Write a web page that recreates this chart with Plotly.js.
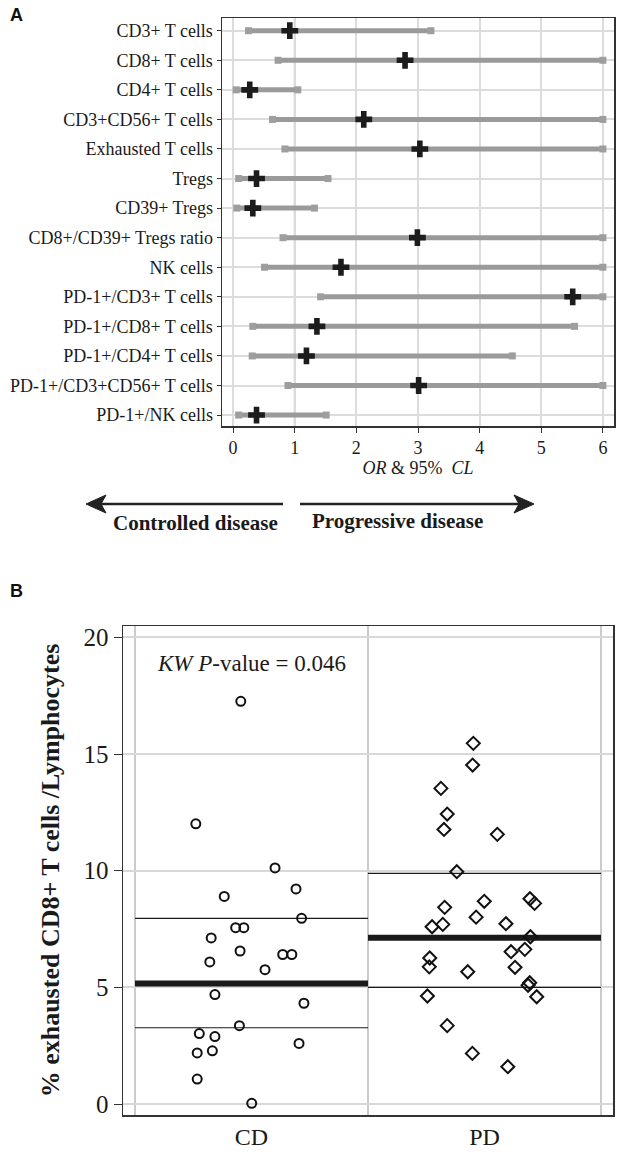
<!DOCTYPE html>
<html><head><meta charset="utf-8">
<script src="https://cdn.plot.ly/plotly-3.0.1.min.js"></script>
<style>body{margin:0;background:#fff}#chart{width:630px;height:1155px}</style>
</head><body><div id="chart"></div>
<script>
// ---------- Panel A data ----------
const categories = ["CD3+ T cells","CD8+ T cells","CD4+ T cells","CD3+CD56+ T cells","Exhausted T cells","Tregs","CD39+ Tregs","CD8+/CD39+ Tregs ratio","NK cells","PD-1+/CD3+ T cells","PD-1+/CD8+ T cells","PD-1+/CD4+ T cells","PD-1+/CD3+CD56+ T cells","PD-1+/NK cells"];
const orValues = [0.92,2.79,0.27,2.12,3.03,0.38,0.32,2.99,1.75,5.51,1.36,1.19,3.01,0.38];
const clLower  = [0.25,0.73,0.05,0.64,0.84,0.09,0.06,0.81,0.51,1.42,0.32,0.31,0.89,0.09];
const clUpper  = [3.21,6.00,1.05,6.00,6.00,1.54,1.32,6.00,6.00,6.00,5.54,4.53,6.00,1.51];
const orTicks  = [0,1,2,3,4,5,6];

// ---------- Panel B data ----------
const groups = ["CD","PD"];
const cdValues = [17.26,12.01,10.12,9.22,8.90,7.96,7.56,7.56,7.12,6.56,6.41,6.41,6.09,5.76,4.69,4.32,3.36,3.02,2.89,2.60,2.28,2.19,1.07,0.03];
const cdX      = [0.454,0.261,0.601,0.691,0.383,0.715,0.432,0.467,0.327,0.451,0.634,0.673,0.321,0.558,0.343,0.725,0.448,0.276,0.343,0.704,0.332,0.267,0.267,0.501];
const pdValues = [15.46,14.53,13.53,12.43,11.77,11.56,9.96,8.80,8.60,8.69,8.43,8.01,7.60,7.70,7.73,7.17,6.53,6.63,6.26,5.88,5.67,5.86,5.20,5.09,4.60,4.63,3.36,2.17,1.60];
const pdX      = [1.452,1.449,1.313,1.340,1.326,1.555,1.381,1.695,1.715,1.499,1.329,1.464,1.275,1.321,1.592,1.697,1.614,1.673,1.265,1.263,1.428,1.631,1.694,1.687,1.724,1.255,1.340,1.448,1.600];
const medians  = [5.17,7.13];
const lowerQ   = [3.27,5.00];
const upperQ   = [7.96,9.89];
const bTicks   = [0,5,10,15,20];

// pixel -> paper helpers (figure is 630 x 1155, zero margins)
const W = 630, H = 1155;
const px = x => x / W;
const py = y => 1 - y / H;

const SERIF = "Liberation Serif, Times New Roman, serif";
const INK = "#1a1a1a";

// CI bars
const ciX = [], ciY = [];
categories.forEach((c, i) => { ciX.push(clLower[i], clUpper[i], null); ciY.push(c, c, null); });

// median / quartile lines
function hLines(vals) {
  const x = [], y = [];
  vals.forEach((v, i) => { x.push(i, i + 1, null); y.push(v, v, null); });
  return {x, y};
}
const medL = hLines(medians), loL = hLines(lowerQ), upL = hLines(upperQ);

const traces = [
  {type:"scatter", mode:"lines+markers", x:ciX, y:ciY, xaxis:"x", yaxis:"y",
   line:{color:"#9a9a9a", width:5}, marker:{symbol:"square", size:7, color:"#9e9e9e"},
   connectgaps:false, hoverinfo:"skip", showlegend:false},
  {type:"scatter", mode:"markers", x:orValues, y:categories, xaxis:"x", yaxis:"y",
   marker:{symbol:"cross", size:14, color:"#1c1c1c", line:{width:0}}, showlegend:false},

  {type:"scatter", mode:"lines", x:loL.x, y:loL.y, xaxis:"x2", yaxis:"y2",
   line:{color:INK, width:1.2}, showlegend:false, hoverinfo:"skip"},
  {type:"scatter", mode:"lines", x:upL.x, y:upL.y, xaxis:"x2", yaxis:"y2",
   line:{color:INK, width:1.2}, showlegend:false, hoverinfo:"skip"},
  {type:"scatter", mode:"lines", x:medL.x, y:medL.y, xaxis:"x2", yaxis:"y2",
   line:{color:"#1a1a1a", width:6}, showlegend:false, hoverinfo:"skip"},
  {type:"scatter", mode:"markers", x:cdX, y:cdValues, xaxis:"x2", yaxis:"y2", name:groups[0],
   marker:{symbol:"circle-open", size:9, color:"#111", line:{width:2, color:"#111"}}, showlegend:false},
  {type:"scatter", mode:"markers", x:pdX, y:pdValues, xaxis:"x2", yaxis:"y2", name:groups[1],
   marker:{symbol:"diamond-open", size:10, color:"#111", line:{width:2, color:"#111"}}, showlegend:false}
];

const layout = {
  width:W, height:H, margin:{l:0, r:0, t:0, b:0},
  paper_bgcolor:"#fff", plot_bgcolor:"#fff",
  font:{family:SERIF, color:INK},
  xaxis:{domain:[px(222), px(614)], range:[-0.18, 6.18], tickvals:orTicks,
         ticks:"outside", ticklen:5, tickcolor:"#333", tickwidth:1,
         showline:true, mirror:true, linecolor:"#333", linewidth:1.5,
         showgrid:true, gridcolor:"#dcdcdc", gridwidth:2, zeroline:false,
         tickfont:{family:SERIF, size:18, color:INK},
         title:{text:"<i>OR</i> & 95%  <i>CL</i>", standoff:2, font:{family:SERIF, size:18, color:INK}}},
  yaxis:{domain:[py(426), py(18)], type:"category", range:[13.37, -0.43],
         ticks:"outside", ticklen:4, tickcolor:"#333",
         showline:true, mirror:true, linecolor:"#333", linewidth:1.5,
         showgrid:true, gridcolor:"#dcdcdc", gridwidth:2,
         tickfont:{family:SERIF, size:18, color:INK}},
  xaxis2:{domain:[px(123), px(613)], range:[-0.0515, 2.0515], tickvals:[0.5,1.5], ticktext:groups,
          ticks:"", showgrid:false, zeroline:false, anchor:"y2",
          showline:true, mirror:true, linecolor:"#333", linewidth:1.5,
          tickfont:{family:SERIF, size:24, color:INK}},
  yaxis2:{domain:[py(1115), py(626)], range:[-0.47, 20.49], tickvals:bTicks, anchor:"x2",
          ticks:"outside", ticklen:8, tickcolor:"#333",
          showline:true, mirror:true, linecolor:"#333", linewidth:1.5,
          showgrid:true, gridcolor:"#d8d8d8", gridwidth:2, zeroline:false,
          tickfont:{family:SERIF, size:25, color:INK},
          title:{text:"<b>% exhausted CD8+ T cells /Lymphocytes</b>", standoff:16,
                 font:{family:SERIF, size:26, color:INK}}},
  shapes:[
    {type:"line", xref:"x", yref:"y domain", x0:1, x1:1, y0:0, y1:1, line:{color:"#222", width:1.6}, layer:"below"},
    {type:"line", xref:"x2", yref:"y2 domain", x0:0, x1:0, y0:0, y1:1, line:{color:"#a8a8a8", width:1.2}, layer:"below"},
    {type:"line", xref:"x2", yref:"y2 domain", x0:1, x1:1, y0:0, y1:1, line:{color:"#a8a8a8", width:1.2}, layer:"below"},
    {type:"line", xref:"x2", yref:"y2 domain", x0:2, x1:2, y0:0, y1:1, line:{color:"#a8a8a8", width:1.2}, layer:"below"},
    // direction arrows
    {type:"line", xref:"paper", yref:"paper", x0:px(283), x1:px(100), y0:py(504), y1:py(504), line:{color:"#222", width:2.5}},
    {type:"path", xref:"paper", yref:"paper", fillcolor:"#222", line:{color:"#222", width:1},
     path:`M ${px(86)} ${py(504)} L ${px(106)} ${py(495)} L ${px(101)} ${py(504)} L ${px(106)} ${py(513)} Z`},
    {type:"line", xref:"paper", yref:"paper", x0:px(300), x1:px(520), y0:py(504), y1:py(504), line:{color:"#222", width:2.5}},
    {type:"path", xref:"paper", yref:"paper", fillcolor:"#222", line:{color:"#222", width:1},
     path:`M ${px(534)} ${py(504)} L ${px(514)} ${py(495)} L ${px(519)} ${py(504)} L ${px(514)} ${py(513)} Z`}
  ],
  annotations:[
    {xref:"paper", yref:"paper", x:px(16), y:py(15), xanchor:"center", yanchor:"middle", text:"<b>A</b>", showarrow:false,
     font:{family:"Liberation Sans, Arial, sans-serif", size:18, color:"#111"}},
    {xref:"paper", yref:"paper", x:px(16), y:py(591), xanchor:"center", yanchor:"middle", text:"<b>B</b>", showarrow:false,
     font:{family:"Liberation Sans, Arial, sans-serif", size:18, color:"#111"}},
    {xref:"paper", yref:"paper", x:px(195), y:py(523), xanchor:"center", yanchor:"middle", text:"<b>Controlled disease</b>", showarrow:false,
     font:{family:SERIF, size:21, color:INK}},
    {xref:"paper", yref:"paper", x:px(397), y:py(521), xanchor:"center", yanchor:"middle", text:"<b>Progressive disease</b>", showarrow:false,
     font:{family:SERIF, size:21, color:INK}},
    {xref:"x2", yref:"y2", x:0.5, y:18.9, xanchor:"center", yanchor:"middle", text:"<i>KW P</i>-value = 0.046", showarrow:false,
     font:{family:SERIF, size:23, color:INK}}
  ]
};

Plotly.newPlot("chart", traces, layout, {displayModeBar:false, staticPlot:true});
</script>
</body></html>
